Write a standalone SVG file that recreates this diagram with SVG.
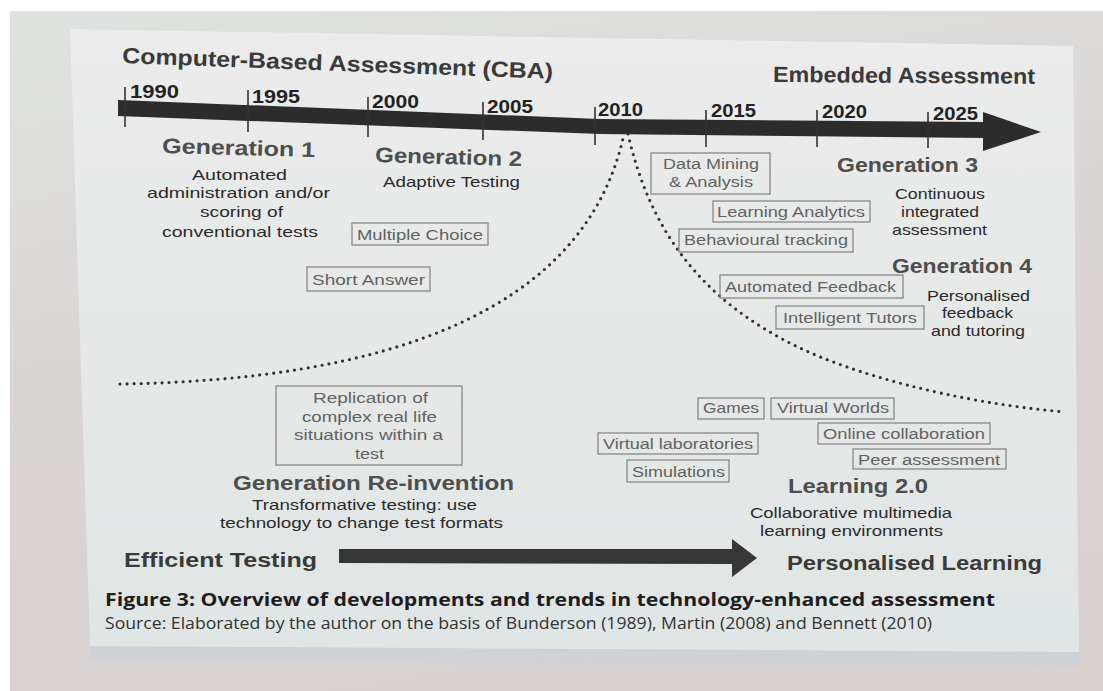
<svg xmlns="http://www.w3.org/2000/svg" width="1103" height="691" viewBox="0 0 1103 691">
<defs>
<linearGradient id="bg" x1="0" y1="0" x2="0.3" y2="1">
<stop offset="0" stop-color="#dfe3df"/>
<stop offset="0.5" stop-color="#dad5d5"/>
<stop offset="1" stop-color="#d8d0d1"/>
</linearGradient>
<linearGradient id="paper" x1="0" y1="0" x2="0" y2="1">
<stop offset="0" stop-color="#ebeceb"/>
<stop offset="0.6" stop-color="#e5e8e7"/>
<stop offset="1" stop-color="#e0e5e5"/>
</linearGradient>
<style>
.t{font-family:"Liberation Sans",Arial,sans-serif}
.h{font-weight:bold;fill:#3a3a3a}
.yr{font-weight:bold;font-size:19px;fill:#222}
.g{font-weight:bold;font-size:21px;fill:#4e4e4e}
.d{font-size:14.5px;fill:#2a2a2a}
.bx{fill:none;stroke:#888;stroke-width:1.3}
.bt{font-size:14px;fill:#626262}
.tk{stroke:#333;stroke-width:1.6}
.dot{fill:none;stroke:#333;stroke-width:3.2;stroke-linecap:round;stroke-dasharray:0 7}
.cap{font-family:"Open Sans","DejaVu Sans",sans-serif}
</style>
</defs>
<rect width="1103" height="691" fill="#ffffff"/>
<rect x="10" y="11" width="1093" height="680" fill="url(#bg)"/>
<polygon points="90,646 1079,652 1080,666 90,660" fill="#cdd1d8" opacity="0.85"/>
<polygon points="70,29 1073,46 1079,652 90,646" fill="url(#paper)"/>

<g id="timeline">
<polygon points="118,100 600,119 983,122 983,112 1041,132 983,151 983,138 600,134 118,116" fill="#2c2c2c"/>
<line class="tk" x1="125" y1="87" x2="125" y2="127"/>
<line class="tk" x1="248" y1="90" x2="248" y2="132"/>
<line class="tk" x1="368" y1="97" x2="368" y2="137"/>
<line class="tk" x1="483" y1="102" x2="483" y2="140"/>
<line class="tk" x1="595" y1="107" x2="595" y2="145"/>
<line class="tk" x1="706" y1="110" x2="706" y2="147"/>
<line class="tk" x1="817" y1="110" x2="817" y2="147"/>
<line class="tk" x1="928" y1="112" x2="928" y2="148"/>
<text class="t yr" x="130" y="98" textLength="49" lengthAdjust="spacingAndGlyphs">1990</text>
<text class="t yr" x="252" y="103" textLength="48" lengthAdjust="spacingAndGlyphs">1995</text>
<text class="t yr" x="372" y="108" textLength="47" lengthAdjust="spacingAndGlyphs">2000</text>
<text class="t yr" x="487" y="113" textLength="46" lengthAdjust="spacingAndGlyphs">2005</text>
<text class="t yr" x="598" y="116" textLength="45" lengthAdjust="spacingAndGlyphs">2010</text>
<text class="t yr" x="711" y="117" textLength="45" lengthAdjust="spacingAndGlyphs">2015</text>
<text class="t yr" x="822" y="118" textLength="45" lengthAdjust="spacingAndGlyphs">2020</text>
<text class="t yr" x="933" y="120" textLength="45" lengthAdjust="spacingAndGlyphs">2025</text>
</g>

<g id="title-cba">
<text class="t h" font-size="22" x="122" y="63" transform="rotate(2.1 122 63)" textLength="431" lengthAdjust="spacingAndGlyphs">Computer-Based Assessment (CBA)</text>
</g>
<g id="title-embedded">
<text class="t h" font-size="22" fill="#444" x="773" y="82" transform="rotate(0.4 773 82)" textLength="262" lengthAdjust="spacingAndGlyphs">Embedded Assessment</text>
</g>

<g id="connectors">
<path class="dot" d="M120,384 C380,380 585,315 624,134"/>
<path class="dot" d="M628,134 C650,230 700,300 800,348 C850,372 950,402 1065,412"/>
<polygon points="339,549 732,549 732,539 757,558 732,577 732,564 339,563" fill="#363636"/>
</g>

<g id="generation-1">
<text class="t g" x="162" y="153" transform="rotate(1.5 162 153)" textLength="153" lengthAdjust="spacingAndGlyphs">Generation 1</text>
<text class="t d" x="192" y="180" textLength="95" lengthAdjust="spacingAndGlyphs">Automated</text>
<text class="t d" x="147" y="198" textLength="183" lengthAdjust="spacingAndGlyphs">administration and/or</text>
<text class="t d" x="200" y="217" textLength="83" lengthAdjust="spacingAndGlyphs">scoring of</text>
<text class="t d" x="162" y="237" textLength="156" lengthAdjust="spacingAndGlyphs">conventional tests</text>
</g>

<g id="generation-2">
<text class="t g" x="375" y="162" transform="rotate(1.6 375 162)" textLength="147" lengthAdjust="spacingAndGlyphs">Generation 2</text>
<text class="t d" x="383" y="187" textLength="137" lengthAdjust="spacingAndGlyphs">Adaptive Testing</text>
</g>

<g id="multiple-choice">
<rect class="bx" x="352" y="223" width="136" height="22"/>
<text class="t bt" x="357" y="240" textLength="126" lengthAdjust="spacingAndGlyphs">Multiple Choice</text>
</g>
<g id="short-answer">
<rect class="bx" x="307" y="267" width="123" height="24"/>
<text class="t bt" x="312" y="285" textLength="113" lengthAdjust="spacingAndGlyphs">Short Answer</text>
</g>

<g id="data-mining">
<rect class="bx" x="651" y="153" width="119" height="41"/>
<text class="t bt" x="663" y="169" textLength="96" lengthAdjust="spacingAndGlyphs">Data Mining</text>
<text class="t bt" x="669" y="187" textLength="84" lengthAdjust="spacingAndGlyphs">&amp; Analysis</text>
</g>
<g id="learning-analytics">
<rect class="bx" x="713" y="201" width="157" height="21"/>
<text class="t bt" x="717" y="217" textLength="148" lengthAdjust="spacingAndGlyphs">Learning Analytics</text>
</g>
<g id="behavioural-tracking">
<rect class="bx" x="679" y="229" width="174" height="23"/>
<text class="t bt" x="684" y="245" textLength="164" lengthAdjust="spacingAndGlyphs">Behavioural tracking</text>
</g>

<g id="generation-3">
<text class="t g" fill="#444" x="837" y="172" textLength="141" lengthAdjust="spacingAndGlyphs">Generation 3</text>
<text class="t d" x="895" y="199" textLength="90" lengthAdjust="spacingAndGlyphs">Continuous</text>
<text class="t d" x="901" y="217" textLength="78" lengthAdjust="spacingAndGlyphs">integrated</text>
<text class="t d" x="892" y="235" textLength="95" lengthAdjust="spacingAndGlyphs">assessment</text>
</g>

<g id="generation-4">
<text class="t g" fill="#444" x="892" y="273" textLength="140" lengthAdjust="spacingAndGlyphs">Generation 4</text>
<text class="t d" x="927" y="301" textLength="103" lengthAdjust="spacingAndGlyphs">Personalised</text>
<text class="t d" x="942" y="318" textLength="71" lengthAdjust="spacingAndGlyphs">feedback</text>
<text class="t d" x="931" y="336" textLength="94" lengthAdjust="spacingAndGlyphs">and tutoring</text>
</g>

<g id="automated-feedback">
<rect class="bx" x="720" y="275" width="183" height="23"/>
<text class="t bt" x="725" y="292" textLength="171" lengthAdjust="spacingAndGlyphs">Automated Feedback</text>
</g>
<g id="intelligent-tutors">
<rect class="bx" x="776" y="306" width="148" height="23"/>
<text class="t bt" x="783" y="323" textLength="134" lengthAdjust="spacingAndGlyphs">Intelligent Tutors</text>
</g>

<g id="replication">
<rect class="bx" x="276" y="386" width="186" height="79"/>
<text class="t bt" x="313" y="403" textLength="115" lengthAdjust="spacingAndGlyphs">Replication of</text>
<text class="t bt" x="302" y="422" textLength="135" lengthAdjust="spacingAndGlyphs">complex real life</text>
<text class="t bt" x="294" y="440" textLength="149" lengthAdjust="spacingAndGlyphs">situations within a</text>
<text class="t bt" x="355" y="459" textLength="29" lengthAdjust="spacingAndGlyphs">test</text>
</g>

<g id="generation-reinvention">
<text class="t g" fill="#444" x="233" y="490" textLength="281" lengthAdjust="spacingAndGlyphs">Generation Re-invention</text>
<text class="t d" x="252" y="510" textLength="225" lengthAdjust="spacingAndGlyphs">Transformative testing: use</text>
<text class="t d" x="220" y="528" textLength="283" lengthAdjust="spacingAndGlyphs">technology to change test formats</text>
</g>

<g id="games">
<rect class="bx" x="698" y="398" width="66" height="21"/>
<text class="t bt" x="703" y="413" textLength="56" lengthAdjust="spacingAndGlyphs">Games</text>
</g>
<g id="virtual-worlds">
<rect class="bx" x="771" y="398" width="123" height="21"/>
<text class="t bt" x="777" y="413" textLength="112" lengthAdjust="spacingAndGlyphs">Virtual Worlds</text>
</g>
<g id="online-collaboration">
<rect class="bx" x="818" y="423" width="172" height="21"/>
<text class="t bt" x="823" y="439" textLength="162" lengthAdjust="spacingAndGlyphs">Online collaboration</text>
</g>
<g id="virtual-laboratories">
<rect class="bx" x="598" y="433" width="160" height="21"/>
<text class="t bt" x="603" y="449" textLength="150" lengthAdjust="spacingAndGlyphs">Virtual laboratories</text>
</g>
<g id="peer-assessment">
<rect class="bx" x="853" y="449" width="153" height="20"/>
<text class="t bt" x="858" y="465" textLength="142" lengthAdjust="spacingAndGlyphs">Peer assessment</text>
</g>
<g id="simulations">
<rect class="bx" x="627" y="460" width="102" height="22"/>
<text class="t bt" x="632" y="477" textLength="93" lengthAdjust="spacingAndGlyphs">Simulations</text>
</g>

<g id="learning-2">
<text class="t g" fill="#444" x="788" y="493" textLength="140" lengthAdjust="spacingAndGlyphs">Learning 2.0</text>
<text class="t d" x="750" y="518" textLength="202" lengthAdjust="spacingAndGlyphs">Collaborative multimedia</text>
<text class="t d" x="760" y="536" textLength="183" lengthAdjust="spacingAndGlyphs">learning environments</text>
</g>

<g id="efficient-testing">
<text class="t h" font-size="21" x="124" y="567" textLength="193" lengthAdjust="spacingAndGlyphs">Efficient Testing</text>
</g>
<g id="personalised-learning">
<text class="t h" font-size="21" fill="#444" x="787" y="570" textLength="255" lengthAdjust="spacingAndGlyphs">Personalised Learning</text>
</g>

<g id="caption">
<text class="cap" font-weight="bold" font-size="17" fill="#1e1e1e" x="105" y="606" textLength="890" lengthAdjust="spacingAndGlyphs">Figure 3: Overview of developments and trends in technology-enhanced assessment</text>
<text class="cap" font-size="15.5" fill="#333" x="105" y="629" textLength="827" lengthAdjust="spacingAndGlyphs">Source: Elaborated by the author on the basis of Bunderson (1989), Martin (2008) and Bennett (2010)</text>
</g>
</svg>
